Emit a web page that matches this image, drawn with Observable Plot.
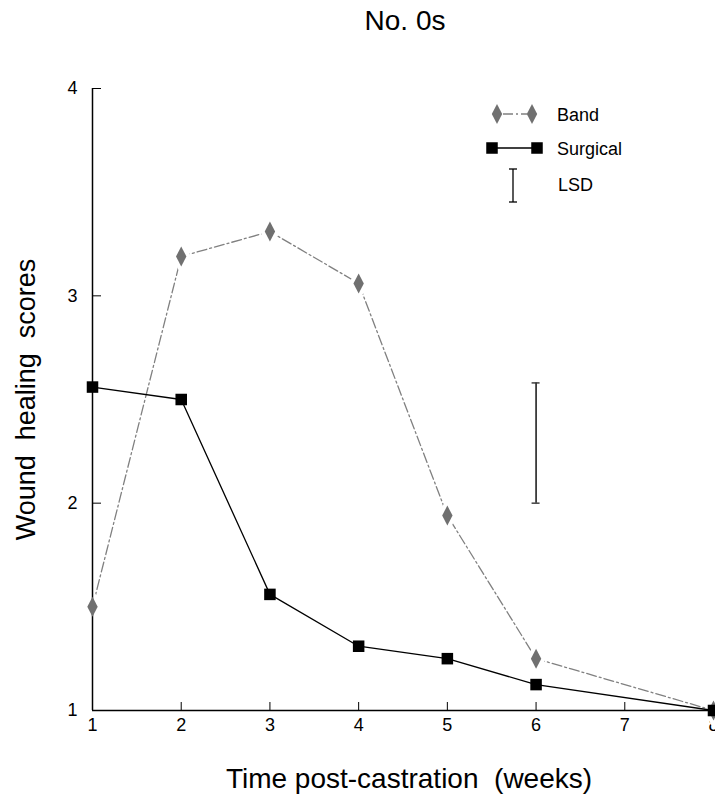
<!DOCTYPE html>
<html>
<head>
<meta charset="utf-8">
<script src="https://cdn.jsdelivr.net/npm/d3@7"></script>
<script src="https://cdn.jsdelivr.net/npm/@observablehq/plot@0.6"></script>
<style>
  body { margin: 0; background: #fff; }
  #wrap { position: relative; width: 715px; height: 796px; overflow: hidden;
          font-family: "Liberation Sans", Arial, sans-serif; }
  #wrap svg { display: block; }
  #legend { position: absolute; left: 0; top: 0; }
</style>
</head>
<body>
<div id="wrap"></div>
<script>
// Wound healing scores by week after castration
const weeks = [1, 2, 3, 4, 5, 6, 8];
const bandScores = [1.50, 3.19, 3.31, 3.06, 1.94, 1.25, 1.00];
const surgicalScores = [2.56, 2.50, 1.56, 1.31, 1.25, 1.125, 1.00];
const lsdWeek = 6;
const lsdRange = [2.0, 2.58];
const xTicks = [1, 2, 3, 4, 5, 6, 7, 8];
const yTicks = [1, 2, 3, 4];
const seriesNames = ["Band", "Surgical"];
const titleText = "No. 0s";
const xTitle = "Time post-castration  (weeks)";
const yTitle = "Wound  healing  scores";

const band = weeks.map((w, i) => ({week: w, score: bandScores[i]}));
const surgical = weeks.map((w, i) => ({week: w, score: surgicalScores[i]}));

// Tall narrow diamond marker
const diamond = {
  draw(context, size) {
    const r = Math.sqrt(size / Math.PI);
    const w = r * 0.52;
    context.moveTo(0, -r);
    context.lineTo(w, 0);
    context.lineTo(0, r);
    context.lineTo(-w, 0);
    context.closePath();
  }
};

const W = 715, H = 796;
const mLeft = 92, mRight = 2, mTop = 88, mBottom = 86;
const frameW = W - mLeft - mRight, frameH = H - mTop - mBottom;
const gray = "#707070", lineGray = "#808080", dash = "10,3,2,3";
const font = "Liberation Sans, Arial, sans-serif";

const chart = Plot.plot({
  width: W, height: H,
  marginLeft: mLeft, marginRight: mRight, marginTop: mTop, marginBottom: mBottom,
  style: {fontFamily: font, background: "#fff", color: "#000"},
  x: {domain: [1, 8], axis: null},
  y: {domain: [1, 4], axis: null},
  marks: [
    // tick labels
    Plot.text(xTicks, {x: d => d, frameAnchor: "bottom", lineAnchor: "top", dy: 8, fontSize: 18, fill: "#000", text: d => String(d)}),
    Plot.text(yTicks, {y: d => d, frameAnchor: "left", textAnchor: "end", dx: -15, fontSize: 18, fill: "#000", text: d => String(d)}),
    // Band series: dashed line broken around each marker
    Plot.line(band, {x: "week", y: "score", stroke: lineGray, strokeWidth: 1.3, strokeDasharray: dash}),
    Plot.dot(band, {x: "week", y: "score", symbol: diamond, r: 10, fill: "white", stroke: "white", strokeWidth: 8}),
    // axes frame and inward ticks
    Plot.ruleX([1], {stroke: "#000", strokeWidth: 1.5}),
    Plot.ruleY([1], {stroke: "#000", strokeWidth: 1.5}),
    Plot.ruleY(yTicks, {stroke: "#000", strokeWidth: 1, insetRight: frameW - 9}),
    Plot.ruleX(xTicks.slice(1, -1), {stroke: "#000", strokeWidth: 1, insetTop: frameH - 8}),
    Plot.dot(band, {x: "week", y: "score", symbol: diamond, r: 10, fill: gray, stroke: "none"}),
    // Surgical series
    Plot.line(surgical, {x: "week", y: "score", stroke: "#000", strokeWidth: 1.3}),
    Plot.dot(surgical, {x: "week", y: "score", symbol: "square", r: 6.5, fill: "#000", stroke: "none"}),
    // least significant difference bar
    Plot.ruleX([lsdWeek], {y1: lsdRange[0], y2: lsdRange[1], stroke: "#000", strokeWidth: 1.4}),
    Plot.ruleY(lsdRange, {x1: lsdWeek, x2: lsdWeek, insetLeft: -4, insetRight: -4, stroke: "#333", strokeWidth: 1.4}),
    // titles
    Plot.text([titleText], {frameAnchor: "top", lineAnchor: "top", dx: 2, dy: -78, fontSize: 28, fill: "#000"}),
    Plot.text([xTitle], {frameAnchor: "bottom", lineAnchor: "top", dx: 6, dy: 58, fontSize: 28, fill: "#000"}),
    Plot.text([yTitle], {frameAnchor: "left", textAnchor: "middle", lineAnchor: "top", rotate: -90, dx: -77, fontSize: 27, fill: "#000"})
  ]
});

const wrap = document.getElementById("wrap");
wrap.appendChild(chart);

// Legend drawn over the plot area
const lg = d3.select(wrap).append("svg")
  .attr("id", "legend").attr("width", W).attr("height", 230)
  .style("font-family", font);

const bandRow = lg.append("g");
bandRow.append("line").attr("x1", 503).attr("x2", 527).attr("y1", 114).attr("y2", 114)
  .attr("stroke", lineGray).attr("stroke-width", 1.3).attr("stroke-dasharray", dash);
[497, 532].forEach(cx => bandRow.append("path")
  .attr("d", d3.symbol(diamond, Math.PI * 100)())
  .attr("transform", `translate(${cx},114)`).attr("fill", gray));
bandRow.append("text").attr("x", 557).attr("y", 120.5).attr("font-size", 18).text(seriesNames[0]);

const surgRow = lg.append("g");
surgRow.append("line").attr("x1", 492).attr("x2", 537).attr("y1", 148).attr("y2", 148)
  .attr("stroke", "#000").attr("stroke-width", 1.3);
[492, 537].forEach(cx => surgRow.append("path")
  .attr("d", d3.symbol(d3.symbolSquare, Math.PI * 6.5 * 6.5)())
  .attr("transform", `translate(${cx},148)`).attr("fill", "#000"));
surgRow.append("text").attr("x", 557).attr("y", 155).attr("font-size", 18).text(seriesNames[1]);

const lsdRow = lg.append("g").attr("stroke", "#000").attr("stroke-width", 1.3);
lsdRow.append("line").attr("x1", 513).attr("x2", 513).attr("y1", 169).attr("y2", 202);
lsdRow.append("line").attr("x1", 509).attr("x2", 517).attr("y1", 169).attr("y2", 169);
lsdRow.append("line").attr("x1", 509).attr("x2", 517).attr("y1", 202).attr("y2", 202);
lg.append("text").attr("x", 558).attr("y", 191).attr("font-size", 18).text("LSD");
</script>
</body>
</html>
